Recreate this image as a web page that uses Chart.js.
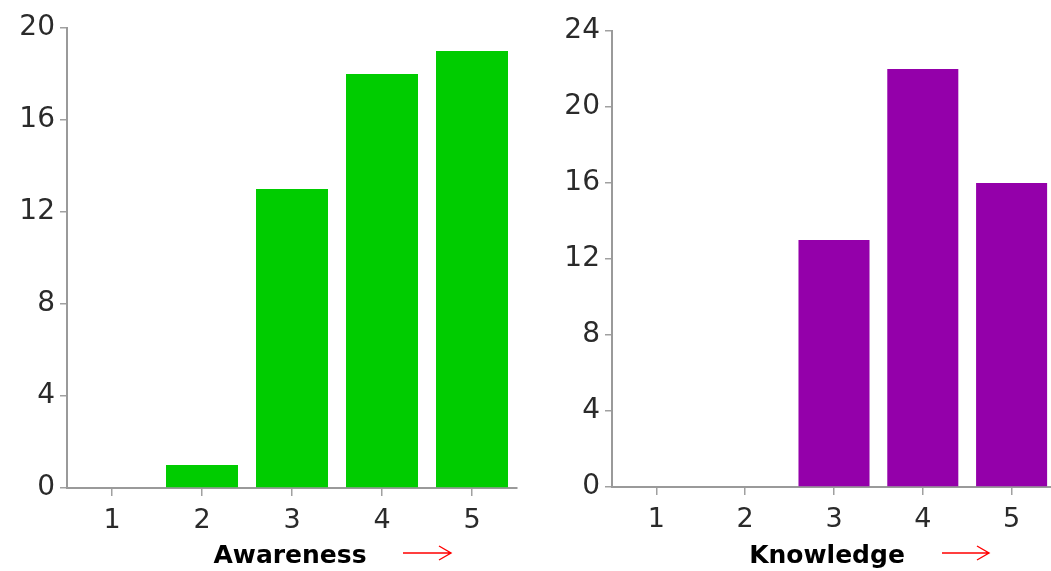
<!DOCTYPE html>
<html>
<head>
<meta charset="utf-8">
<title>Awareness and Knowledge ratings</title>
<script src="https://cdn.jsdelivr.net/npm/chart.js@4/dist/chart.umd.min.js"></script>
<style>
  html, body { margin: 0; padding: 0; background: #fff; overflow: hidden; width: 1051px; height: 571px; }
  canvas { position: absolute; top: 0; }
  #awareness { left: 0; }
  #knowledge { left: 530px; }
</style>
</head>
<body>
<canvas id="awareness" width="525" height="571"></canvas>
<canvas id="knowledge" width="526" height="571"></canvas>
<script>
// Rating scale shared by both panels
const ratings = ['1', '2', '3', '4', '5'];

// Number of responses per rating
const awarenessCounts = [0, 1, 13, 18, 19];
const knowledgeCounts = [0, 0, 13, 22, 16];

// Y-axis ranges
const awarenessMax = 20;
const knowledgeMax = 24;
const tickStep = 4;

const awarenessTitle = 'Awareness';
const knowledgeTitle = 'Knowledge';

// Draws the panel caption under the axis and a thin red arrow next to it
const captionPlugin = {
  id: 'caption',
  afterDraw(chart, args, opts) {
    const ctx = chart.ctx;
    ctx.save();
    ctx.font = 'bold 25px "DejaVu Sans"';
    ctx.fillStyle = '#000';
    ctx.textAlign = 'center';
    ctx.textBaseline = 'alphabetic';
    ctx.fillText(opts.text, opts.x, opts.y);
    // arrow
    const ax0 = opts.arrowFrom, ax1 = opts.arrowTo, ay = opts.arrowY;
    ctx.strokeStyle = '#ff0000';
    ctx.lineWidth = 1.4;
    ctx.beginPath();
    ctx.moveTo(ax0, ay);
    ctx.lineTo(ax1, ay);
    ctx.moveTo(ax1 - 12, ay - 7);
    ctx.lineTo(ax1, ay);
    ctx.lineTo(ax1 - 12, ay + 7);
    ctx.stroke();
    ctx.restore();
  }
};

function makePanel(id, counts, color, maxVal, caption, layout) {
  return new Chart(document.getElementById(id), {
    type: 'bar',
    data: {
      labels: ratings,
      datasets: [{
        data: counts,
        backgroundColor: color,
        borderWidth: 0,
        categoryPercentage: 0.8,
        barPercentage: 1.0
      }]
    },
    plugins: [captionPlugin],
    options: {
      responsive: false,
      animation: false,
      layout: { padding: { top: layout.top, right: layout.right, bottom: 0, left: 0 } },
      plugins: {
        legend: { display: false },
        tooltip: { enabled: false },
        caption: caption
      },
      scales: {
        x: {
          grid: { display: true, offset: false, drawOnChartArea: false, tickLength: 8, color: '#a0a0a0', lineWidth: 1.5 },
          border: { display: true, color: '#9a9a9a', width: 2 },
          ticks: { color: '#2a2a2a', font: { family: '"DejaVu Sans"', size: 27 }, padding: 9, maxRotation: 0 },
          afterFit(scale) { scale.height = layout.xHeight; }
        },
        y: {
          min: 0,
          max: maxVal,
          grid: { display: true, drawOnChartArea: false, tickLength: 7, color: '#a0a0a0', lineWidth: 1.5 },
          border: { display: true, color: '#9a9a9a', width: 2 },
          ticks: { stepSize: tickStep, color: '#2a2a2a', font: { family: '"DejaVu Sans"', size: 28 }, padding: 5 },
          afterFit(scale) { scale.width = layout.yWidth; }
        }
      }
    }
  });
}

makePanel('awareness', awarenessCounts, '#00cc00', awarenessMax,
  { text: awarenessTitle, x: 290, y: 563, arrowFrom: 403, arrowTo: 451, arrowY: 553 },
  { top: 28, right: 8, xHeight: 83, yWidth: 67 });

makePanel('knowledge', knowledgeCounts, '#9400aa', knowledgeMax,
  { text: knowledgeTitle, x: 297, y: 563, arrowFrom: 412, arrowTo: 459, arrowY: 553 },
  { top: 31, right: 0, xHeight: 84, yWidth: 82 });
</script>
</body>
</html>
